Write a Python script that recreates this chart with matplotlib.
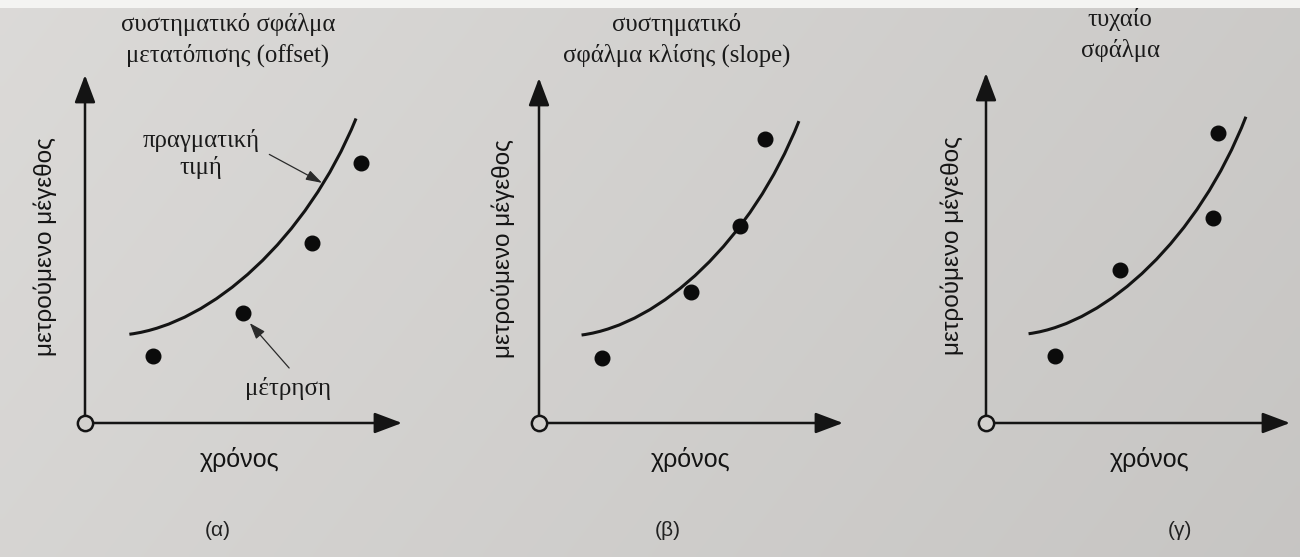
import numpy as np
import matplotlib.pyplot as plt
from matplotlib.path import Path
from matplotlib.patches import PathPatch

# Text of the three panels
titles = ['συστηματικό σφάλμα\nμετατόπισης (offset)',
          'συστηματικό\nσφάλμα κλίσης (slope)',
          'τυχαίο\nσφάλμα']
captions = ['(α)', '(β)', '(γ)']
y_name = 'μετρούμενο μέγεθος'
x_name = 'χρόνος'

# True value curve as cubic Bezier control points (axis units 0..10)
true_t = [1.4, 4.0, 7.0, 8.55]
true_val = [2.55, 2.85, 5.3, 8.75]

# Measurements in each panel
offset_t = [2.15, 4.98, 7.16, 8.71]
offset_val = [1.93, 3.16, 5.17, 7.47]
slope_t = [2.07, 5.00, 6.61, 7.43]
slope_val = [1.88, 3.80, 5.71, 8.23]
random_t = [2.27, 4.41, 7.47, 7.63]
random_val = [1.91, 4.37, 5.86, 8.29]

W, H = 1300, 557
ink = '#141414'
paper = '#d3d1ce'
serif = ['Liberation Serif', 'DejaVu Serif']
sans = ['Liberation Sans Narrow', 'Liberation Sans', 'DejaVu Sans']

fig = plt.figure(figsize=(W / 100, H / 100), dpi=100)

# paper background, a little lighter on the left
bg = fig.add_axes([0, 0, 1, 1], zorder=-10)
gx = np.linspace(0, 1, 200)
gy = np.linspace(0, 1, 100)[:, None]
shade = 0.86 - 0.06 * gx - 0.02 * gy
bg.imshow(np.dstack([shade, shade - 0.006, shade - 0.014]), aspect='auto',
          extent=[0, 1, 0, 1], interpolation='bilinear')
bg.axhspan(0.985, 1.0, color='#f4f4f2', lw=0)
bg.set_xlim(0, 1)
bg.set_ylim(0, 1)
bg.axis('off')


def frac(x, y):
    return x / W, 1 - y / H


# origin and arrow tips of each panel (pixels)
boxes = [(85, 423, 402, 75), (539, 423, 843, 78), (986, 423, 1290, 73)]
points = [(offset_t, offset_val), (slope_t, slope_val), (random_t, random_val)]
title_pos = [(228, 40), (677, 40), (1120, 35)]
xname_pos = [(240, 460), (691, 460), (1150, 460)]
yname_pos = [45, 503, 952]
caption_pos = [(218, 530), (668, 530), (1180, 530)]

axes = []
for i, (ox, oy, tx, ty) in enumerate(boxes):
    ax = fig.add_axes([ox / W, 1 - oy / H, (tx - ox) / W, (oy - ty) / H])
    ax.set_xlim(0, 10)
    ax.set_ylim(0, 10)
    ax.axis('off')

    arrow = dict(arrowstyle='-|>,head_length=0.85,head_width=0.32', mutation_scale=20,
                 lw=1.8, color=ink, shrinkA=0, shrinkB=0)
    ax.annotate('', xy=(10, 0), xytext=(0, 0), arrowprops=arrow, annotation_clip=False)
    ax.annotate('', xy=(0, 10), xytext=(0, 0), arrowprops=arrow, annotation_clip=False)
    ax.plot(0, 0, 'o', ms=11, mfc=paper, mec=ink, mew=1.8, clip_on=False, zorder=5)

    curve = Path(list(zip(true_t, true_val)),
                 [Path.MOVETO, Path.CURVE4, Path.CURVE4, Path.CURVE4])
    ax.add_patch(PathPatch(curve, fc='none', ec=ink, lw=2.2, clip_on=False))

    t, v = points[i]
    ax.plot(t, v, 'o', ls='none', ms=10.5, color='#0b0b0b', clip_on=False, zorder=4)

    x, y = frac(*title_pos[i])
    fig.text(x, y, titles[i], ha='center', va='center', fontsize=17.8,
             family=serif, color='#1a1a1a', linespacing=1.4)
    x, y = frac(*xname_pos[i])
    fig.text(x, y, x_name, ha='center', va='center', fontsize=18, family=sans, color=ink)
    x, y = frac(yname_pos[i], (oy + ty) / 2 - 2)
    fig.text(x, y, y_name, ha='center', va='center', rotation=90, fontsize=17.5,
             family=sans, color=ink)
    x, y = frac(*caption_pos[i])
    fig.text(x, y, captions[i], ha='center', va='center', fontsize=15, family=sans,
             color='#222222')
    axes.append(ax)

# labels of the offset panel
ax = axes[0]
ax.annotate('πραγματική\nτιμή', xy=(7.48, 6.9), xytext=(3.65, 7.73), ha='center',
            va='center', fontsize=17.8, family=serif, color='#1a1a1a', linespacing=1.25,
            arrowprops=dict(arrowstyle='-|>,head_length=0.7,head_width=0.22',
                            mutation_scale=14, lw=0.9, color='#2a2a2a',
                            shrinkA=6, shrinkB=0, relpos=(1.0, 0.6)))
ax.annotate('', xy=(5.2, 2.87), xytext=(6.44, 1.58),
            arrowprops=dict(arrowstyle='-|>,head_length=0.7,head_width=0.25',
                            mutation_scale=14, lw=0.9, color='#2a2a2a',
                            shrinkA=0, shrinkB=0))
ax.text(6.4, 1.0, 'μέτρηση', ha='center', va='center', fontsize=18, family=serif,
        color='#1a1a1a')

fig.savefig('out.png', dpi=100)
